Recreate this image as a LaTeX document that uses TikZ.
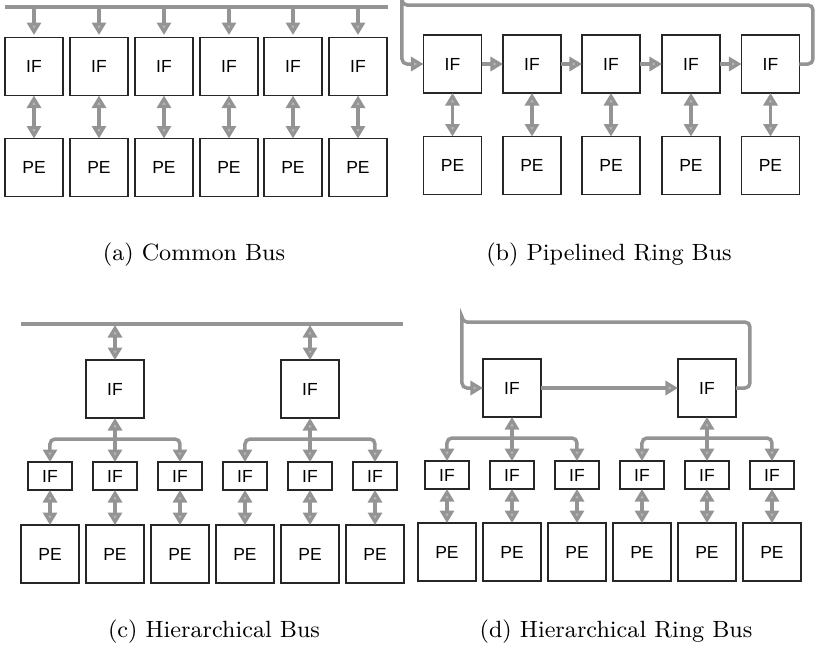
\documentclass[tikz,border=0pt]{standalone}
\usepackage{fontspec}
\newfontfamily\arial{Liberation Sans}
\usetikzlibrary{arrows.meta}
\begin{document}
\begin{tikzpicture}[x=0.4pt,y=-0.4pt,
  box/.style={draw=black!85,line width=0.5pt,minimum width=23.2pt,minimum height=23.2pt,inner sep=0pt,outer sep=0pt,font=\arial\fontsize{7}{8}\selectfont},
  sbox/.style={box,minimum width=17.6pt,minimum height=11.2pt},
  link/.style={draw=black!42,line width=1.4pt},
  tip/.style={-{Triangle[length=5pt,width=5.6pt,fill=black!28]}},
  dtip/.style={{Triangle[length=5pt,width=5.6pt,fill=black!28]}-{Triangle[length=5pt,width=5.6pt,fill=black!28]}},
  captxt/.style={font=\fontsize{9.4}{11}\selectfont,inner sep=0pt}
]
\useasboundingbox (0,0) rectangle (816,656);

% ---------- (a) Common Bus ----------
\coordinate (aBL) at (5,7);
\coordinate (aBR) at (388,7);
\draw[link] (aBL) -- (aBR);
\foreach \x [count=\i] in {34,99,164,229,293,358} {
  \node[box] (aIF\i) at (\x,66.5) {IF};
  \node[box] (aPE\i) at (\x,167.5) {PE};
  \draw[link,tip,shorten >=1pt] (aIF\i.north |- aBL) -- (aIF\i.north);
  \draw[link,dtip] (aIF\i) -- (aPE\i);
}
\node[captxt] (capa) at (194,255) {(a) Common Bus};

% ---------- (b) Pipelined Ring Bus ----------
\foreach \x [count=\i] in {452.5,532,611,691,770.5} {
  \node[box] (bIF\i) at (\x,64) {IF};
  \node[box] (bPE\i) at (\x,165.5) {PE};
  \draw[link,dtip] (bIF\i) -- (bPE\i);
}
\foreach \i/\j in {1/2,2/3,3/4,4/5} {
  \draw[link,tip] (bIF\i) -- (bIF\j);
}
\coordinate (bTR) at (813,5);
\coordinate (bTL) at (402,5);
\draw[link,tip,rounded corners=2pt] (bIF5.east) -| (bTR) -| (bTL) |- (bIF1.west);
\node[captxt] (capb) at (609,255) {(b) Pipelined Ring Bus};

% ---------- (c) Hierarchical Bus ----------
\coordinate (cBL) at (21,324);
\coordinate (cBR) at (403,324);
\draw[link] (cBL) -- (cBR);
\node[box] (cT1) at (115,389) {IF};
\node[box] (cT2) at (310,389) {IF};
\draw[link,dtip] (cT1.north |- cBL) ++(0,1) -- (cT1.north);
\draw[link,dtip] (cT2.north |- cBL) ++(0,1) -- (cT2.north);
\foreach \x [count=\i] in {50,115,180,245,310,375} {
  \node[sbox] (cIF\i) at (\x,476) {IF};
  \node[box] (cPE\i) at (\x,554) {PE};
  \draw[link,dtip] (cIF\i) -- (cPE\i);
}
\coordinate (cS1) at (115,439);
\coordinate (cS2) at (310,439);
\draw[link,dtip,rounded corners=2pt] (cIF1.north) |- (cS1) -| (cIF3.north);
\draw[link,dtip,rounded corners=2pt] (cIF4.north) |- (cS2) -| (cIF6.north);
\draw[link,dtip] (cT1) -- (cIF2);
\draw[link,dtip] (cT2) -- (cIF5);
\node[captxt] (capc) at (214,632) {(c) Hierarchical Bus};

% ---------- (d) Hierarchical Ring Bus ----------
\node[box] (dT1) at (512,388) {IF};
\node[box] (dT2) at (707,388) {IF};
\draw[link,tip] (dT1) -- (dT2);
\coordinate (dTR) at (750,322);
\coordinate (dTL) at (462,322);
\draw[link,tip,rounded corners=2pt] (dT2.east) -| (dTR) -| (dTL) |- (dT1.west);
\foreach \x [count=\i] in {447,512,577,642,707,772} {
  \node[sbox] (dIF\i) at (\x,475) {IF};
  \node[box] (dPE\i) at (\x,552) {PE};
  \draw[link,dtip] (dIF\i) -- (dPE\i);
}
\coordinate (dS1) at (512,438);
\coordinate (dS2) at (707,438);
\draw[link,dtip,rounded corners=2pt] (dIF1.north) |- (dS1) -| (dIF3.north);
\draw[link,dtip,rounded corners=2pt] (dIF4.north) |- (dS2) -| (dIF6.north);
\draw[link,dtip] (dT1) -- (dIF2);
\draw[link,dtip] (dT2) -- (dIF5);
\node[captxt] (capd) at (616,632) {(d) Hierarchical Ring Bus};
\end{tikzpicture}
\end{document}
